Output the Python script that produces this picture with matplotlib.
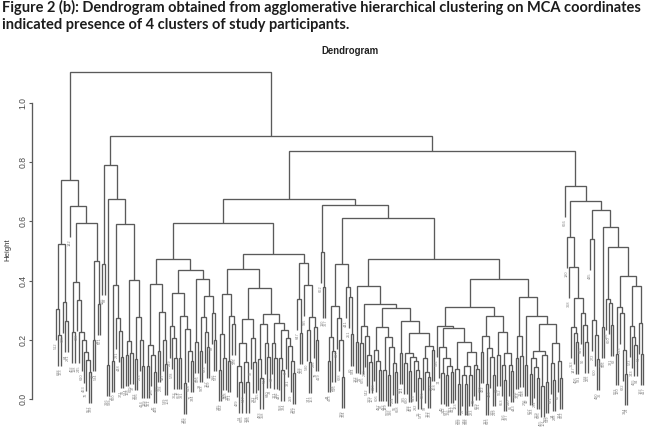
"""Dendrogram of agglomerative hierarchical clustering on MCA coordinates."""

import matplotlib
matplotlib.use('Agg')
import matplotlib.pyplot as plt

# A merge is (height, left, right); a 0 stands for a single participant.
cluster_a = (0.74,
             (0.525, (0.304, 0, (0.216, 0, 0)), (0.329, 0, (0.263, 0, 0))),
             (0.652, 0,
              (0.595,
               (0.394, (0.225, 0, 0),
                (0.334, 0, (0.225, 0, (0.2, 0, (0.158, 0, (0.133, 0, (0.09, 0, 0))))))),
               (0.467, (0.2, 0, 0), (0.32, 0, 0)))))

cluster_b = (0.79, (0.456, 0, 0),
             (0.676, (0.115, 0, 0),
              (0.59,
               (0.385, (0.13, 0, 0), (0.274, 0, (0.231, 0, (0.143, 0, 0)))),
               (0.402,
                (0.197, (0.149, 0, 0), (0.157, 0, 0)),
                (0.277, (0.135, 0, 0), (0.2, 0, (0.11, 0, 0)))))))

group_c1 = (0.387,
            (0.182, (0.11, 0, 0), (0.148, 0, (0.09, 0, 0))),
            (0.295, (0.163, 0, 0), (0.2, 0, (0.118, 0, 0))))

group_c2 = (0.357,
            (0.245, 0, (0.205, 0, (0.14, 0, 0))),
            (0.28, (0.14, 0, 0),
             (0.235, (0.055, 0, 0), (0.163, 0, (0.128, 0, 0)))))

group_c3 = (0.404, (0.192, 0, 0),
            (0.348,
             (0.276, (0.163, 0, 0), (0.225, 0, (0.175, 0, 0))),
             (0.292, 0, (0.2, 0, 0))))

group_c4 = (0.439,
            (0.354,
             (0.218, (0.098, 0, 0), (0.137, 0, 0)),
             (0.28, (0.13, 0, 0), (0.253, 0, 0))),
            (0.376,
             (0.27,
              (0.188, (0.113, 0, (0.058, 0, 0)), (0.124, 0, (0.058, 0, 0))),
              (0.207, 0, (0.124, 0, 0))),
             (0.288,
              (0.252, (0.135, 0, (0.072, 0, 0)), (0.19, 0, (0.143, 0, 0))),
              (0.258,
               (0.188, 0, (0.138, 0, 0)),
               (0.234, (0.137, 0, (0.098, 0, 0)),
                (0.205, 0, (0.179, 0, (0.128, 0, (0.089, 0, 0)))))))))

group_c5 = (0.459,
            (0.337, 0, (0.222, 0, 0)),
            (0.385, 0,
             (0.276, (0.233, 0, (0.124, 0, 0)), (0.243, 0, (0.2, 0, 0)))))

group_d1 = (0.498, 0, (0.38, 0, 0))

group_d2 = (0.456,
            (0.315,
             (0.208, (0.129, 0, 0), (0.162, 0, 0)),
             (0.275, 0, (0.2, 0, (0.073, 0, 0)))),
            (0.38, 0, (0.346, 0, (0.218, 0, 0))))

group_d3 = (0.382, (0.193, 0, 0),
            (0.32,
             (0.247, (0.188, 0, 0), (0.213, 0, (0.148, 0, (0.126, 0, 0)))),
             (0.307,
              (0.243,
               (0.165, 0, (0.128, 0, (0.098, 0, 0))),
               (0.21, (0.098, 0, 0), (0.175, (0.08, 0, 0), (0.12, 0, (0.09, 0, 0))))),
              (0.263, (0.155, 0, 0),
               (0.222,
                (0.156, (0.123, 0, 0),
                 (0.143, (0.096, 0, 0), (0.128, 0, (0.098, 0, (0.07, 0, 0))))),
                (0.18, (0.137, 0, (0.09, 0, (0.075, 0, 0))), (0.165, 0, 0)))))))

group_d4 = (0.311,
            (0.248, 0,
             (0.24,
              (0.177, 0, (0.138, (0.088, 0, 0), (0.11, (0.08, 0, 0), (0.09, 0, 0)))),
              (0.192,
               (0.1, 0, (0.05, 0, 0)),
               (0.158,
                (0.11, (0.08, 0, (0.05, 0, 0)), (0.08, 0, 0)),
                (0.115, 0, (0.1, 0, 0)))))),
            (0.282,
             (0.214, (0.16, 0, 0), (0.172, (0.05, 0, 0), (0.142, 0, (0.08, 0, 0)))),
             (0.227, (0.15, 0, 0),
              (0.155, (0.115, 0, (0.065, 0, 0)), (0.115, 0, (0.095, 0, 0))))))

group_d5 = (0.346,
            (0.214, (0.14, 0, 0), (0.145, 0, 0)),
            (0.282, (0.115, 0, 0),
             (0.253,
              (0.162,
               (0.138, (0.085, 0, 0), (0.108, 0, (0.07, 0, 0))),
               (0.15, (0.045, 0, 0), (0.058, 0, 0))),
              (0.19, (0.122, 0, (0.065, 0, 0)), (0.127, 0, (0.07, 0, 0))))))

cluster_e = (0.72, 0,
             (0.669,
              (0.547, 0,
               (0.445, 0,
                (0.34,
                 (0.243, 0, (0.222, 0, (0.191, 0, 0))),
                 (0.29, 0, (0.25, 0, (0.194, 0, 0)))))),
              (0.638,
               (0.54, 0, (0.267, 0, (0.217, 0, (0.135, 0, 0)))),
               (0.58, (0.243, 0, 0),
                (0.513,
                 (0.337, 0, (0.324, 0, (0.25, 0, 0))),
                 (0.417,
                  (0.312, (0.152, 0, 0), (0.29, 0, (0.166, 0, (0.085, 0, 0)))),
                  (0.382,
                   (0.248, 0, (0.211, 0, (0.183, 0, 0))),
                   (0.256, 0, (0.152, 0, 0)))))))))

# Upper merges joining the groups above
group_c = (0.595, (0.473, group_c1, (0.436, group_c2, group_c3)),
           (0.49, group_c4, group_c5))
group_d = (0.655, group_d1,
           (0.61, group_d2,
            (0.473, group_d3, (0.404, group_d4, group_d5))))
root = (1.105, cluster_a,
        (0.888, cluster_b, (0.838, (0.676, group_c, group_d), cluster_e)))

# Participant numbers under the leaves, left to right
leaf_ids = [
    688, 173, 512, 64, 291, 635, 402, 118, 557, 329,
    76, 463, 610, 245, 388, 19, 534, 297, 671, 142,
    425, 83, 316, 589, 207, 650, 371, 96, 448, 231,
    524, 158, 679, 37, 302, 566, 414, 129, 263, 603,
    351, 47, 492, 186, 625, 278, 539, 104, 437, 362,
    12, 578, 219, 654, 391, 145, 506, 71, 334, 618,
    253, 476, 28, 593, 167, 409, 683, 296, 521, 88,
    345, 632, 194, 458, 115, 571, 240, 376, 53, 665,
    429, 308, 136, 547, 282, 601, 92, 483, 358, 215,
    640, 33, 514, 171, 396, 69, 558, 324, 447, 126,
    612, 259, 381, 8, 498, 202, 647, 341, 153, 530,
    79, 419, 286, 595, 110, 367, 662, 44, 473, 228,
    516, 139, 304, 628, 397, 60, 584, 251, 441, 182,
    356, 21, 675, 319, 107, 542, 268, 487, 87, 606,
    213, 432, 149, 569, 336, 55, 658, 274, 501, 121,
    385, 620, 198, 451, 16, 527, 292, 643, 162, 373,
    99, 586, 237, 468, 40, 312, 637, 176, 553, 412,
    74, 265, 509, 133, 348, 598, 26, 479, 223, 669,
    301, 58, 536, 190, 422, 113, 615, 379, 249, 494,
    31, 562, 156, 327, 653, 85, 443, 210, 575, 364,
    124, 518, 276, 49, 607, 393, 169, 686, 234, 455,
    101, 339, 549, 14, 288, 631, 204, 472, 67, 406,
    581, 147, 313, 528, 255, 90, 645, 368, 180, 490,
    36, 600, 272, 435, 116, 556, 321, 62, 660, 226,
    503, 160, 384, 24, 622, 243, 465, 94, 343, 573,
    192, 417, 51, 666,
]

LINE_COLOR = '#5a5a5a'
LEAF_HANG = 0.105

fig = plt.figure(figsize=(6.5, 4.29), dpi=100)
plt.rcParams['font.family'] = ['Liberation Sans', 'DejaVu Sans']

# 2.322 px between leaves, first leaf 24 px right of the height axis
ax = fig.add_axes([32 / 650, 0, 618 / 650, 389 / 429])
ax.set_xlim(-24 / 2.322, 594 / 2.322)
ax.set_ylim(-30 / 296, 359 / 296)
ax.patch.set_alpha(0)

ids = iter(leaf_ids)
next_leaf = [0]


def draw_node(node):
    """Draw a subtree, return the x position of its top and its height."""
    if node == 0:
        x = next_leaf[0]
        next_leaf[0] += 1
        return x, None
    h, left, right = node
    x_left, h_left = draw_node(left)
    x_right, h_right = draw_node(right)
    bottom_left = h - LEAF_HANG if h_left is None else h_left
    bottom_right = h - LEAF_HANG if h_right is None else h_right
    ax.plot([x_left, x_left, x_right, x_right],
            [bottom_left, h, h, bottom_right],
            color=LINE_COLOR, lw=0.95, solid_joinstyle='miter',
            solid_capstyle='butt', clip_on=False)
    for x, h_child, bottom in ((x_left, h_left, bottom_left),
                               (x_right, h_right, bottom_right)):
        if h_child is None:
            ax.text(x, bottom - 0.008, str(next(ids)), rotation=90,
                    ha='center', va='top', fontsize=2.8, color='#858585')
    return (x_left + x_right) / 2, h


draw_node(root)

ax.set_xticks([])
ax.set_yticks([0.0, 0.2, 0.4, 0.6, 0.8, 1.0])
ax.set_yticklabels(['0.0', '0.2', '0.4', '0.6', '0.8', '1.0'],
                   rotation=90, va='center', fontsize=6.2, color='#4a4a4a')
ax.tick_params(axis='y', length=2.2, width=0.8, color=LINE_COLOR, pad=0.8)
for side in ('top', 'right', 'bottom'):
    ax.spines[side].set_visible(False)
ax.spines['left'].set_bounds(0, 1)
ax.spines['left'].set_color(LINE_COLOR)
ax.spines['left'].set_linewidth(0.95)

fig.text(7.5 / 650, 1 - 250 / 429, 'Height', rotation=90, ha='center',
         va='center', fontsize=5.6, color='#333333')
fig.text(350 / 650, 1 - 51 / 429, 'Dendrogram', ha='center', va='center',
         fontsize=6.9, fontweight='bold', color='#222222')

heading = ['Figure 2 (b): Dendrogram obtained from agglomerative hierarchical clustering on MCA coordinates',
           'indicated presence of 4 clusters of study participants.']
for line, y in zip(heading, (7, 25)):
    fig.text(2 / 650, 1 - y / 429, line, ha='left', va='center',
             fontsize=10.5, fontweight='bold', color='#1c1c1c', family=['Lato', 'DejaVu Sans'])

fig.savefig('out.png', dpi=100)
plt.close(fig)
